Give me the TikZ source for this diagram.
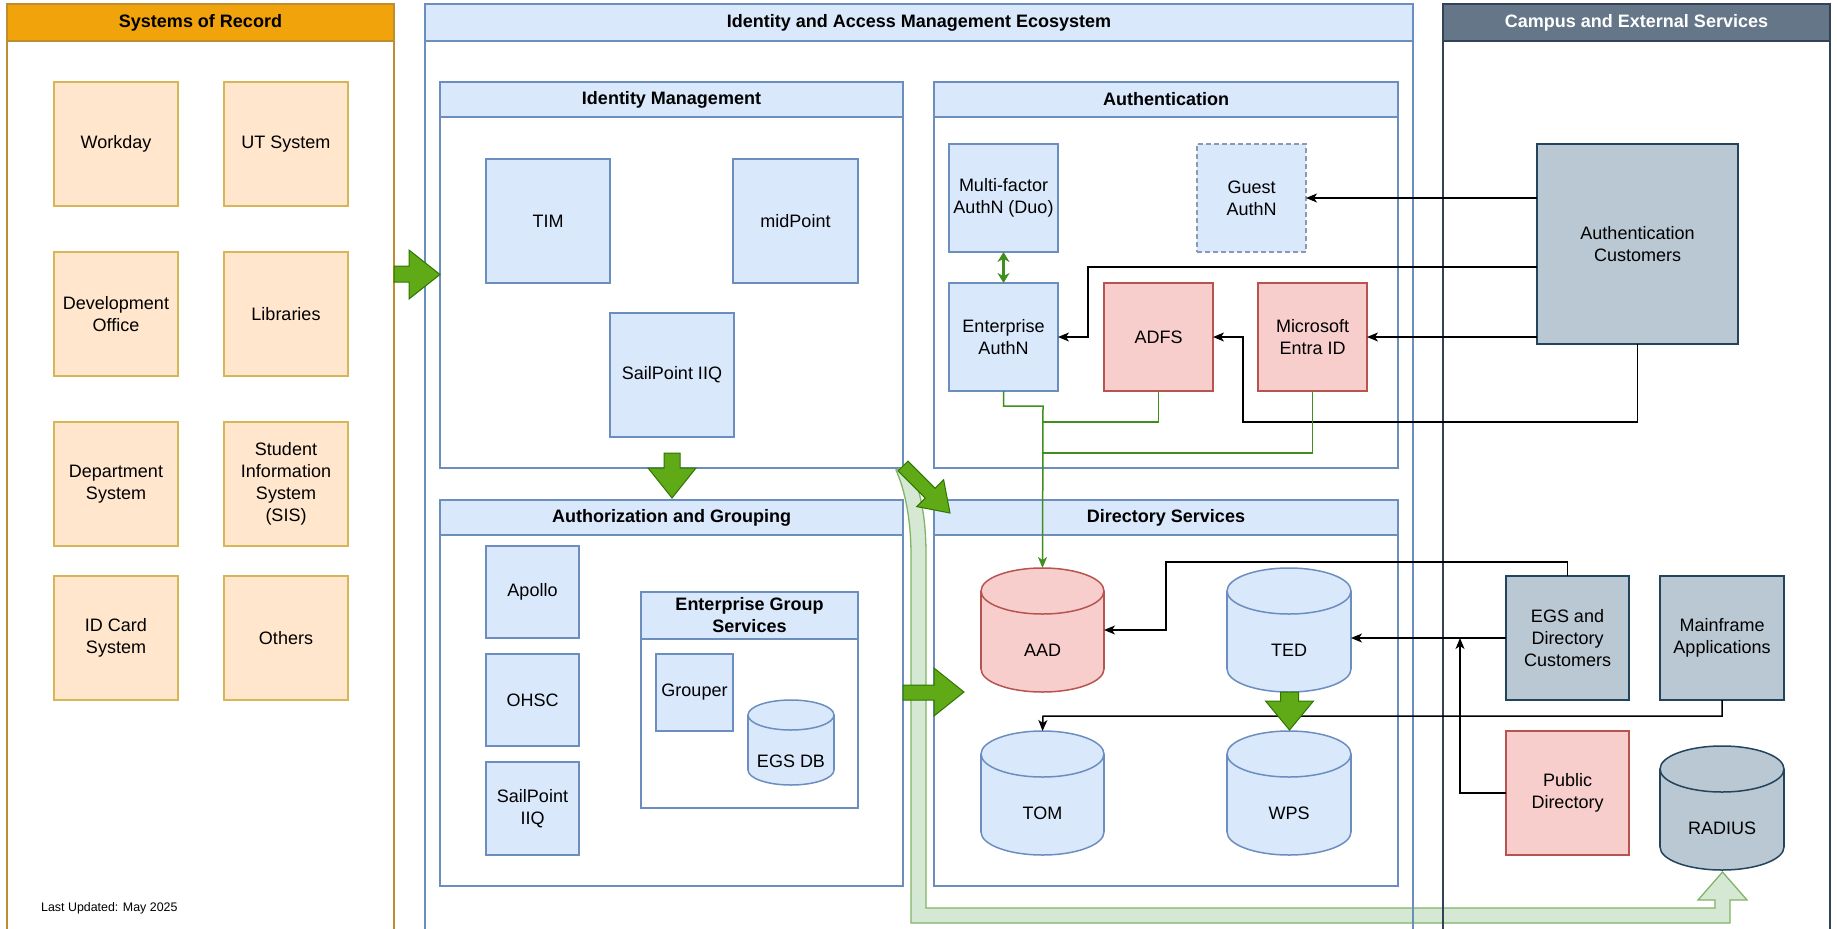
\documentclass[tikz,border=0pt]{standalone}
\usepackage{fontspec}
\setmainfont{Liberation Sans}
\usetikzlibrary{arrows.meta}
\definecolor{sorHead}{HTML}{F0A30A}
\definecolor{sorLine}{HTML}{BD8D2E}
\definecolor{sorFill}{HTML}{FFE6CC}
\definecolor{sorBox}{HTML}{D6B656}
\definecolor{blueFill}{HTML}{DAE8FC}
\definecolor{blueLine}{HTML}{6C8EBF}
\definecolor{redFill}{HTML}{F8CECC}
\definecolor{redLine}{HTML}{B85450}
\definecolor{slateFill}{HTML}{BAC8D3}
\definecolor{slateLine}{HTML}{23445D}
\definecolor{campHead}{HTML}{647687}
\definecolor{campLine}{HTML}{314354}
\definecolor{gFill}{HTML}{60A917}
\definecolor{gLine}{HTML}{2D7600}
\definecolor{gThin}{HTML}{3F8F1F}
\definecolor{bandFill}{HTML}{D5E8D4}
\definecolor{bandLine}{HTML}{82B366}
\definecolor{guestLine}{HTML}{8A9AB2}

\newcommand\mkbox[7]{\node[#1, minimum width={(#5-#3)*1pt}, minimum height={(#6-#4)*1pt}] (#2) at ({(#3+#5)/2},{(#4+#6)/2}) {#7};}
\newcommand\cylpath[6]{%
  \pgfmathsetmacro\cxc{(#1+#3)/2}%
  \pgfmathsetmacro\crx{(#3-#1)/2}%
  \fill[#6Fill] (\cxc,{#4-#5}) ellipse [x radius=\crx pt, y radius=#5pt];
  \draw[#6Line, line width=1.5pt] (\cxc,{#4-#5}) ellipse [x radius=\crx pt, y radius=#5pt];
  \fill[#6Fill] (#1,{#2+#5}) rectangle (#3,{#4-#5});
  \draw[#6Line, line width=1.5pt] (#1,{#2+#5}) -- (#1,{#4-#5}) (#3,{#2+#5}) -- (#3,{#4-#5});
  \filldraw[fill=#6Fill, draw=#6Line, line width=1.5pt] (\cxc,{#2+#5}) ellipse [x radius=\crx pt, y radius=#5pt];
}

\tikzset{
  base/.style={rectangle, inner sep=0pt, outer sep=0pt, align=center, line width=1.5pt, font=\fontsize{18}{22}\selectfont},
  sorbox/.style={base, fill=sorFill, draw=sorBox},
  bluebox/.style={base, fill=blueFill, draw=blueLine},
  redbox/.style={base, fill=redFill, draw=redLine},
  slatebox/.style={base, fill=slateFill, draw=slateLine},
  guestbox/.style={base, fill=blueFill, draw=guestLine, dash pattern=on 5pt off 3pt},
  hdrblue/.style={base, fill=blueFill, draw=blueLine, font=\bfseries\fontsize{18}{22}\selectfont},
  hdrsor/.style={base, fill=sorHead, draw=sorLine, font=\bfseries\fontsize{18}{22}\selectfont},
  hdrcamp/.style={base, fill=campHead, draw=campLine, text=white, font=\bfseries\fontsize{18}{22}\selectfont},
  anchorbox/.style={rectangle, inner sep=0pt, outer sep=0pt, draw=none},
  txt/.style={inner sep=0pt, font=\fontsize{18}{22}\selectfont},
  cont/.style={draw=blueLine, line width=1.5pt, fill=white},
  conn/.style={draw=black, line width=1.5pt, -{Stealth[length=11pt,width=9pt,inset=3pt]}},
  plainline/.style={draw=black, line width=1.5pt},
  gthin/.style={draw=gThin, line width=1.5pt},
  barrow/.style={fill=gFill, draw=gLine, line width=1pt, line join=miter},
  band/.style={fill=bandFill, draw=bandLine, line width=1.3pt, line join=miter},
}

\begin{document}
\begin{tikzpicture}[x=1pt, y=-1pt]
\useasboundingbox[fill=white] (0,0) rectangle (1837,929);

% ---------- outer containers ----------
\draw[sorLine, line width=1.5pt, fill=white] (7,4) rectangle (394,945);
\mkbox{hdrsor}{sorH}{7}{4}{394}{41}{Systems of Record}
\draw[cont] (425,4) rectangle (1413,945);
\mkbox{hdrblue}{iamH}{425}{4}{1413}{41}{Identity and Access Management Ecosystem}
\draw[campLine, line width=1.5pt, fill=white] (1443,4) rectangle (1830,945);
\mkbox{hdrcamp}{campH}{1443}{4}{1830}{41}{Campus and External Services}

% ---------- inner containers ----------
\draw[cont] (440,82) rectangle (903,468);
\mkbox{hdrblue}{idmH}{440}{82}{903}{117}{Identity Management}
\draw[cont] (934,82) rectangle (1398,468);
\mkbox{hdrblue}{authH}{934}{82}{1398}{117}{Authentication}
\draw[cont] (440,500) rectangle (903,886);
\mkbox{hdrblue}{azH}{440}{500}{903}{535}{Authorization and Grouping}
\draw[cont] (934,500) rectangle (1398,886);
\mkbox{hdrblue}{dirH}{934}{500}{1398}{535}{Directory Services}
\draw[cont] (641,592) rectangle (858,808);
\mkbox{hdrblue}{egsH}{641}{592}{858}{639}{Enterprise Group\\Services}

% ---------- light green band to RADIUS ----------
\draw[band] (896,470) .. controls (905,490) and (911,520) .. (911,555)
  -- (911,923) -- (1730,923) -- (1730,900) -- (1747,900) -- (1722.5,872)
  -- (1698,900) -- (1715,900) -- (1715,908) -- (926,908) -- (926,555)
  .. controls (926,515) and (920,490) .. (910,466) -- cycle;
\draw[blueLine, line width=1.5pt] (1413,41) -- (1413,945);
\draw[campLine, line width=1.5pt] (1443,41) -- (1443,945);

% ---------- Systems of Record ----------
\mkbox{sorbox}{wd}{54}{82}{178}{206}{Workday}
\mkbox{sorbox}{uts}{224}{82}{348}{206}{UT System}
\mkbox{sorbox}{dev}{54}{252}{178}{376}{Development\\Office}
\mkbox{sorbox}{lib}{224}{252}{348}{376}{Libraries}
\mkbox{sorbox}{dep}{54}{422}{178}{546}{Department\\System}
\mkbox{sorbox}{sis}{224}{422}{348}{546}{Student\\Information\\System\\(SIS)}
\mkbox{sorbox}{idc}{54}{576}{178}{700}{ID Card\\System}
\mkbox{sorbox}{oth}{224}{576}{348}{700}{Others}
\node[anchor=west, inner sep=0pt, font=\fontsize{12.4}{14}\selectfont] (upd) at (41,908) {Last Updated: May 2025};

% ---------- Identity Management ----------
\mkbox{bluebox}{tim}{486}{159}{610}{283}{TIM}
\mkbox{bluebox}{midp}{733}{159}{858}{283}{midPoint}
\mkbox{bluebox}{spa}{610}{313}{734}{437}{SailPoint IIQ}

% ---------- Authentication ----------
\mkbox{bluebox}{mfa}{949}{144}{1058}{252}{Multi-factor\\AuthN (Duo)}
\mkbox{guestbox}{guest}{1197}{144}{1306}{252}{Guest\\AuthN}
\mkbox{bluebox}{ent}{949}{283}{1058}{391}{Enterprise\\AuthN}
\mkbox{redbox}{adfs}{1104}{283}{1213}{391}{ADFS}
\mkbox{redbox}{entra}{1258}{283}{1367}{391}{Microsoft\\Entra ID}

% ---------- Authorization and Grouping ----------
\mkbox{bluebox}{apollo}{486}{546}{579}{638}{Apollo}
\mkbox{bluebox}{ohsc}{486}{654}{579}{746}{OHSC}
\mkbox{bluebox}{spb}{486}{762}{579}{855}{SailPoint\\IIQ}
\mkbox{bluebox}{grouper}{656}{654}{733}{731}{Grouper}
\cylpath{748}{700}{834}{785}{15}{blue}
\mkbox{anchorbox}{egsdb}{748}{700}{834}{785}{}
\node[txt] (egsdbT) at (791,761) {EGS DB};

% ---------- Directory Services ----------
\cylpath{981}{568}{1104}{692}{23}{red}
\mkbox{anchorbox}{aad}{981}{568}{1104}{692}{}
\node[txt] (aadT) at (1042.5,650) {AAD};
\cylpath{1227}{568}{1351}{692}{23}{blue}
\mkbox{anchorbox}{ted}{1227}{568}{1351}{692}{}
\node[txt] (tedT) at (1289,650) {TED};
\cylpath{981}{731}{1104}{855}{23}{blue}
\mkbox{anchorbox}{tom}{981}{731}{1104}{855}{}
\node[txt] (tomT) at (1042.5,813) {TOM};
\cylpath{1227}{731}{1351}{855}{23}{blue}
\mkbox{anchorbox}{wps}{1227}{731}{1351}{855}{}
\node[txt] (wpsT) at (1289,813) {WPS};

% ---------- Campus and External Services ----------
\mkbox{slatebox}{ac}{1537}{144}{1738}{344}{Authentication\\Customers}
\mkbox{slatebox}{egc}{1506}{576}{1629}{700}{EGS and\\Directory\\Customers}
\mkbox{slatebox}{mf}{1660}{576}{1784}{700}{Mainframe\\Applications}
\mkbox{redbox}{pd}{1506}{731}{1629}{855}{Public\\Directory}
\cylpath{1660}{746}{1784}{870}{23}{slate}
\mkbox{anchorbox}{radius}{1660}{746}{1784}{870}{}
\node[txt] (radiusT) at (1722,828) {RADIUS};

% ---------- black connectors ----------
\coordinate (c1) at (1088,267);
\coordinate (c2) at (1243,422);
\coordinate (c3) at (1166,562);
\coordinate (c4) at (1460,638);
\coordinate (c5) at (1043,716);
\draw[conn] (guest.east -| ac.west) -- (guest.east);
\draw[conn] (c1 -| ac.west) -- (c1) |- (ent.east);
\draw[conn] (entra.east -| ac.west) -- (entra.east);
\draw[conn] (ac.south) |- (c2) |- (adfs.east);
\draw[conn] (egc.north) |- (c3) |- (aad.east);
\draw[conn] (egc.west) -- (egc.west -| ted.east);
\draw[conn] (pd.west) -| (c4);
\draw[conn] (mf.south) |- (c5) -- (tom.north);

% ---------- thin green connectors ----------
\coordinate (g1) at (1043,406);
\coordinate (g2) at (1043,422);
\coordinate (g3) at (1043,453);
\draw[gthin, -{Stealth[length=11pt,width=9pt,inset=3pt]}] (ent.south) |- (g1) -- (aad.north);
\draw[gthin] (adfs.south) |- (g2);
\draw[gthin] (entra.south) |- (g3);
\draw[gthin, line width=2.4pt, {Stealth[length=10pt,width=12pt]}-{Stealth[length=10pt,width=12pt]}] (mfa.south) -- (ent.north);

% ---------- block arrows ----------
\draw[barrow] (394,266) -- (409,266) -- (409,250) -- (440,274.5) -- (409,299) -- (409,282) -- (394,282) -- cycle;
\draw[barrow] (664,453) -- (680,453) -- (680,468) -- (696,468) -- (672,498) -- (648,468) -- (664,468) -- cycle;
\draw[barrow] (898.05,470.95) -- (925.25,498.15) -- (916.76,506.63) -- (950,513) -- (943.64,479.77) -- (935.15,488.25) -- (907.95,461.05) -- cycle;
\draw[barrow] (903,685) -- (934,685) -- (934,668) -- (964,692) -- (934,716) -- (934,700) -- (903,700) -- cycle;
\draw[barrow] (1280.5,692) -- (1298.5,692) -- (1298.5,701) -- (1313.5,701) -- (1289.5,730) -- (1265.5,701) -- (1280.5,701) -- cycle;
\end{tikzpicture}
\end{document}
